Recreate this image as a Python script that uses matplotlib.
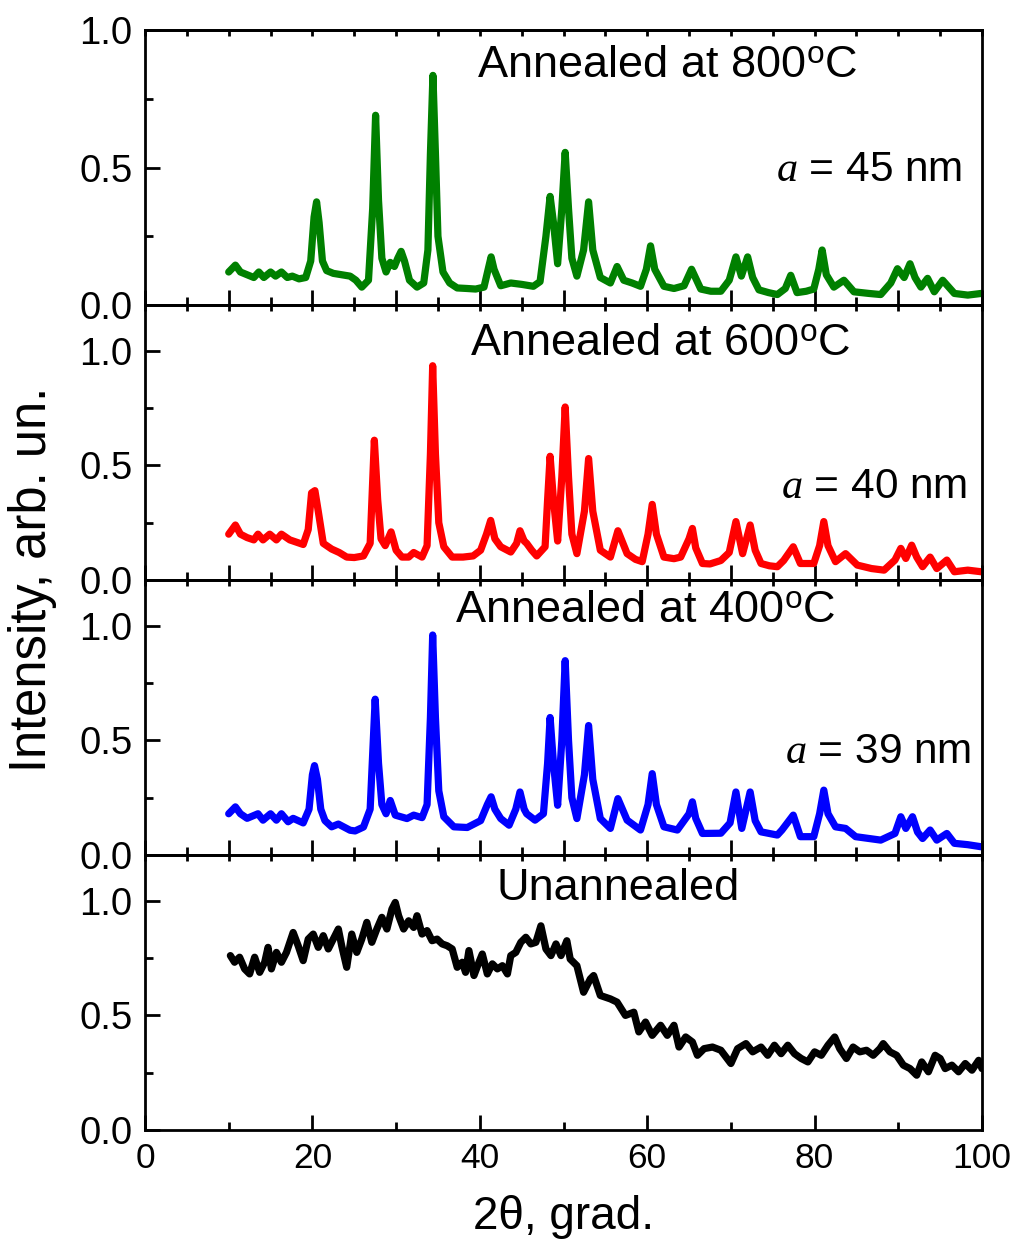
import matplotlib

matplotlib.use("Agg")
import matplotlib.pyplot as plt
from matplotlib.ticker import FormatStrFormatter, MultipleLocator

plt.rcParams["font.family"] = ["Liberation Sans", "DejaVu Sans"]
plt.rcParams["mathtext.fontset"] = "custom"
plt.rcParams["mathtext.rm"] = "Liberation Sans"
plt.rcParams["mathtext.it"] = "Liberation Serif:italic"

# 800 C anneal (green)
x_800 = [10.0, 10.8, 11.4, 12.2, 13.0, 13.6, 14.2, 15.0, 15.6, 16.3, 17.0, 17.6, 18.4, 19.2,
         19.8, 20.2, 20.5, 20.8, 21.2, 21.7, 22.5, 23.5, 24.5, 25.2, 25.9, 26.7, 27.2, 27.55,
         27.9, 28.3, 28.8, 29.3, 29.8, 30.2, 30.6, 31.0, 31.6, 32.5, 33.3, 33.8, 34.1, 34.4,
         34.7, 35.0, 35.6, 36.4, 37.3, 38.5, 39.5, 40.5, 41.0, 41.35, 41.7, 42.5, 43.7, 45.0,
         46.4, 47.2, 47.9, 48.4, 48.8, 49.3, 49.8, 50.2, 50.6, 51.0, 51.6, 52.4, 53.0, 53.5,
         54.4, 55.6, 56.4, 57.2, 58.2, 59.2, 59.9, 60.4, 60.9, 62.0, 63.2, 64.4, 65.3, 66.4,
         67.6, 68.8, 69.8, 70.6, 71.25, 72.0, 72.6, 73.35, 74.5, 75.55, 76.5, 77.15, 77.9,
         79.0, 79.9, 80.5, 80.9, 81.4, 82.3, 83.5, 84.7, 86.5, 87.9, 89.1, 89.9, 90.7, 91.4,
         92.0, 92.7, 93.5, 94.3, 95.3, 96.7, 98.3, 99.9]
y_800 = [0.12, 0.145, 0.12, 0.11, 0.10, 0.12, 0.10, 0.12, 0.105, 0.12, 0.10, 0.105, 0.095, 0.10,
         0.16, 0.32, 0.375, 0.30, 0.16, 0.125, 0.115, 0.11, 0.105, 0.09, 0.065, 0.09, 0.35, 0.69,
         0.38, 0.17, 0.12, 0.155, 0.14, 0.17, 0.195, 0.16, 0.09, 0.065, 0.08, 0.20, 0.55, 0.835,
         0.55, 0.25, 0.12, 0.08, 0.062, 0.06, 0.058, 0.065, 0.13, 0.175, 0.13, 0.07, 0.08, 0.075,
         0.068, 0.085, 0.25, 0.395, 0.30, 0.15, 0.35, 0.555, 0.35, 0.17, 0.105, 0.20, 0.375, 0.20,
         0.10, 0.08, 0.14, 0.09, 0.08, 0.068, 0.13, 0.215, 0.13, 0.068, 0.06, 0.07, 0.13, 0.058,
         0.05, 0.05, 0.09, 0.175, 0.105, 0.175, 0.10, 0.055, 0.045, 0.038, 0.06, 0.108, 0.045,
         0.05, 0.058, 0.13, 0.20, 0.11, 0.065, 0.09, 0.048, 0.042, 0.038, 0.08, 0.132, 0.10, 0.15,
         0.10, 0.065, 0.097, 0.048, 0.09, 0.042, 0.036, 0.042]

# 600 C anneal (red)
x_600 = [10.0, 10.8, 11.4, 12.2, 13.0, 13.5, 14.1, 14.9, 15.7, 16.3, 17.3, 18.1, 18.9, 19.5,
         19.9, 20.3, 20.7, 21.3, 22.3, 23.2, 24.1, 25.0, 26.1, 26.9, 27.4, 27.8, 28.2, 28.7,
         29.4, 30.0, 30.7, 31.5, 32.1, 33.1, 33.7, 34.1, 34.37, 34.7, 35.1, 35.7, 36.7, 38.0,
         39.2, 40.1, 40.8, 41.3, 41.8, 42.5, 43.7, 44.4, 44.8, 45.3, 45.6, 46.2, 46.8, 47.8,
         48.1, 48.4, 48.8, 49.3, 49.8, 50.2, 50.6, 51.0, 51.6, 52.5, 53.0, 53.5, 54.4, 55.6,
         56.5, 57.6, 58.6, 59.4, 60.1, 60.6, 61.1, 62.0, 63.2, 64.0, 65.0, 65.4, 65.8, 66.6,
         67.5, 68.8, 69.8, 70.6, 71.4, 72.3, 72.9, 73.6, 74.6, 75.55, 76.3, 77.45, 78.3, 79.9,
         80.6, 81.1, 81.6, 82.5, 83.7, 85.1, 86.8, 88.3, 89.6, 90.3, 90.9, 91.6, 92.2, 92.9,
         93.8, 94.6, 95.8, 96.7, 98.3, 99.9]
y_600 = [0.20, 0.24, 0.20, 0.185, 0.175, 0.20, 0.175, 0.20, 0.175, 0.20, 0.175, 0.165, 0.155, 0.22,
         0.38, 0.39, 0.30, 0.16, 0.135, 0.12, 0.10, 0.098, 0.105, 0.16, 0.61, 0.35, 0.18, 0.15,
         0.21, 0.13, 0.10, 0.10, 0.12, 0.10, 0.15, 0.55, 0.935, 0.55, 0.25, 0.145, 0.10, 0.10,
         0.105, 0.13, 0.20, 0.26, 0.18, 0.145, 0.122, 0.16, 0.215, 0.17, 0.16, 0.13, 0.105, 0.145,
         0.35, 0.54, 0.35, 0.17, 0.45, 0.755, 0.45, 0.20, 0.115, 0.30, 0.53, 0.30, 0.13, 0.10,
         0.215, 0.115, 0.09, 0.08, 0.20, 0.33, 0.20, 0.10, 0.093, 0.10, 0.18, 0.225, 0.14, 0.072,
         0.07, 0.085, 0.12, 0.255, 0.115, 0.24, 0.13, 0.072, 0.062, 0.058, 0.085, 0.145, 0.072, 0.072,
         0.15, 0.255, 0.15, 0.08, 0.115, 0.065, 0.05, 0.043, 0.087, 0.138, 0.094, 0.152, 0.10, 0.058,
         0.10, 0.05, 0.087, 0.036, 0.043, 0.036]

# 400 C anneal (blue)
x_400 = [10.0, 10.8, 11.4, 12.2, 13.5, 14.1, 15.0, 15.7, 16.3, 17.1, 17.7, 18.9, 19.6, 20.0,
         20.25, 20.6, 21.0, 21.5, 22.3, 23.1, 24.5, 25.1, 26.1, 26.9, 27.5, 27.9, 28.3, 28.8,
         29.3, 29.9, 31.3, 32.1, 33.1, 33.7, 34.1, 34.37, 34.7, 35.1, 35.7, 36.9, 38.5, 40.1,
         40.9, 41.35, 41.8, 42.5, 43.5, 44.3, 44.8, 45.3, 45.6, 46.6, 47.6, 48.1, 48.4, 48.8,
         49.3, 49.8, 50.2, 50.6, 51.0, 51.6, 52.5, 53.0, 53.5, 54.4, 55.6, 56.5, 57.6, 59.2,
         60.1, 60.6, 61.1, 62.0, 63.6, 65.0, 65.4, 65.8, 66.6, 68.8, 69.9, 70.6, 71.3, 72.3,
         72.9, 73.6, 75.55, 76.1, 77.45, 78.3, 79.9, 80.6, 81.1, 81.6, 82.5, 83.7, 84.9, 87.9,
         89.6, 90.3, 90.9, 91.7, 92.3, 92.9, 93.8, 94.6, 95.8, 96.7, 98.3, 99.9]
y_400 = [0.18, 0.21, 0.18, 0.16, 0.18, 0.152, 0.18, 0.152, 0.18, 0.145, 0.16, 0.14, 0.20, 0.35,
         0.39, 0.33, 0.20, 0.15, 0.123, 0.135, 0.108, 0.105, 0.122, 0.20, 0.68, 0.40, 0.22, 0.18,
         0.238, 0.174, 0.159, 0.174, 0.163, 0.22, 0.60, 0.96, 0.60, 0.28, 0.167, 0.123, 0.12, 0.15,
         0.22, 0.254, 0.20, 0.159, 0.13, 0.20, 0.275, 0.20, 0.18, 0.152, 0.18, 0.40, 0.60, 0.40,
         0.217, 0.50, 0.848, 0.50, 0.25, 0.159, 0.35, 0.565, 0.33, 0.159, 0.116, 0.246, 0.152, 0.109,
         0.22, 0.355, 0.22, 0.123, 0.109, 0.18, 0.232, 0.16, 0.094, 0.095, 0.14, 0.275, 0.116, 0.275,
         0.15, 0.101, 0.087, 0.109, 0.174, 0.08, 0.08, 0.18, 0.283, 0.18, 0.123, 0.116, 0.08, 0.065,
         0.094, 0.167, 0.116, 0.167, 0.10, 0.072, 0.109, 0.065, 0.094, 0.051, 0.045, 0.036]

# unannealed (black, amorphous halo)
x_raw = [10.2, 10.7, 11.3, 11.9, 12.5, 13.1, 13.7, 14.3, 14.7, 15.1, 15.7, 16.3, 16.9, 17.7,
         18.3, 18.9, 19.5, 20.1, 20.7, 21.3, 21.9, 22.5, 23.1, 23.5, 24.1, 24.7, 25.3, 25.9,
         26.5, 27.1, 27.7, 28.3, 28.9, 29.5, 29.9, 30.3, 30.9, 31.5, 32.1, 32.5, 33.1, 33.7,
         34.3, 34.9, 35.5, 36.1, 36.7, 37.3, 37.9, 38.3, 38.7, 39.3, 39.9, 40.3, 40.9, 41.5,
         42.1, 42.7, 43.3, 43.7, 44.3, 44.9, 45.5, 46.1, 46.7, 47.3, 47.9, 48.5, 49.1, 49.7,
         50.4, 50.8, 51.6, 52.4, 53.2, 53.6, 54.4, 55.6, 56.4, 57.4, 58.4, 59.0, 59.8, 60.6,
         61.6, 62.4, 63.2, 63.8, 64.6, 65.4, 66.0, 66.8, 67.8, 68.8, 70.0, 70.8, 71.8, 72.6,
         73.6, 74.4, 75.2, 76.0, 76.8, 77.6, 78.4, 79.2, 80.0, 80.8, 81.6, 82.4, 83.0, 83.8,
         84.6, 85.4, 86.2, 87.0, 87.8, 88.2, 89.0, 89.8, 90.6, 91.4, 92.2, 92.8, 93.6, 94.4,
         95.0, 95.6, 96.4, 97.2, 98.0, 98.8, 99.6, 100.0]
y_raw = [0.761, 0.732, 0.754, 0.703, 0.681, 0.754, 0.688, 0.732, 0.797, 0.703, 0.775, 0.732,
         0.775, 0.862, 0.804, 0.739, 0.833, 0.855, 0.797, 0.848, 0.790, 0.833, 0.877, 0.804,
         0.710, 0.855, 0.775, 0.833, 0.906, 0.819, 0.877, 0.928, 0.877, 0.964, 0.993, 0.935,
         0.877, 0.913, 0.884, 0.935, 0.855, 0.870, 0.826, 0.833, 0.812, 0.804, 0.790, 0.710,
         0.732, 0.688, 0.783, 0.674, 0.732, 0.768, 0.681, 0.725, 0.703, 0.717, 0.681, 0.761,
         0.775, 0.819, 0.841, 0.812, 0.819, 0.891, 0.790, 0.761, 0.812, 0.761, 0.826, 0.746,
         0.717, 0.601, 0.659, 0.674, 0.587, 0.572, 0.558, 0.500, 0.514, 0.428, 0.471, 0.413,
         0.457, 0.413, 0.457, 0.362, 0.406, 0.384, 0.326, 0.355, 0.362, 0.348, 0.290, 0.355,
         0.377, 0.341, 0.362, 0.326, 0.370, 0.333, 0.370, 0.333, 0.312, 0.297, 0.341, 0.326,
         0.370, 0.406, 0.355, 0.312, 0.362, 0.341, 0.348, 0.326, 0.355, 0.377, 0.341, 0.326,
         0.283, 0.268, 0.239, 0.297, 0.254, 0.326, 0.312, 0.268, 0.283, 0.254, 0.290, 0.261,
         0.304, 0.268]

panel_titles = ["Annealed at 800$^\\mathrm{o}$C", "Annealed at 600$^\\mathrm{o}$C",
                "Annealed at 400$^\\mathrm{o}$C", "Unannealed"]
size_labels = ["$a$ = 45 nm", "$a$ = 40 nm", "$a$ = 39 nm", None]
colors = ["#008000", "#ff0000", "#0000ff", "#000000"]


def style_axis(ax, ymax, bottom):
    ax.set_xlim(0, 100)
    ax.set_ylim(0, ymax)
    for side in ["left", "right", "top", "bottom"]:
        ax.spines[side].set_linewidth(2.0)
    ax.yaxis.set_major_locator(MultipleLocator(0.5))
    ax.yaxis.set_minor_locator(MultipleLocator(0.25))
    ax.yaxis.set_major_formatter(FormatStrFormatter("%.1f"))
    if bottom:
        ax.xaxis.set_major_locator(MultipleLocator(20))
        ax.xaxis.set_minor_locator(MultipleLocator(10))
    else:
        ax.xaxis.set_major_locator(MultipleLocator(10))
        ax.xaxis.set_minor_locator(MultipleLocator(5))
    ax.tick_params(which="both", direction="in", width=2.0,
                   right=False, top=False, labelbottom=bottom)
    ax.tick_params(axis="y", labelsize=27.5)
    ax.tick_params(axis="x", labelsize=25.5)
    ax.tick_params(which="major", length=11, pad=9)
    ax.tick_params(which="minor", length=6)
    top = ax.secondary_xaxis("top")
    top.xaxis.set_major_locator(MultipleLocator(5))
    top.tick_params(direction="in", length=4, width=2.0, labeltop=False)
    top.spines["top"].set_linewidth(2.0)


fig = plt.figure(figsize=(10.11, 12.4), dpi=100)
left, width = 145 / 1011, 837 / 1011
tops = [30, 305, 580, 855]
curves = [(x_800, y_800), (x_600, y_600), (x_400, y_400), (x_raw, y_raw)]
title_pos = [(62.4, 0.87), (61.6, 1.03), (59.8, 1.065), (56.5, 1.052)]
size_pos = [(97.7, 0.49), (98.3, 0.404), (98.7, 0.448)]

for i, (xs, ys) in enumerate(curves):
    ax = fig.add_axes([left, 1 - (tops[i] + 275) / 1240, width, 275 / 1240])
    ax.plot(xs, ys, color=colors[i], lw=5.2, solid_joinstyle="round",
            solid_capstyle="round")
    style_axis(ax, 1.0 if i == 0 else 1.2, bottom=(i == 3))
    tx, ty = title_pos[i]
    ax.text(tx, ty, panel_titles[i], fontsize=32.5, ha="center", va="center")
    if size_labels[i] is not None:
        sx, sy = size_pos[i]
        ax.text(sx, sy, size_labels[i], fontsize=30.5, ha="right", va="center")
    if i == 3:
        ax.set_xlabel("2θ, grad.", fontsize=33, labelpad=14)

fig.text(0.032, 0.533, "Intensity, arb. un.", fontsize=36.5, rotation=90,
         ha="center", va="center")

fig.savefig("out.png", dpi=100)
